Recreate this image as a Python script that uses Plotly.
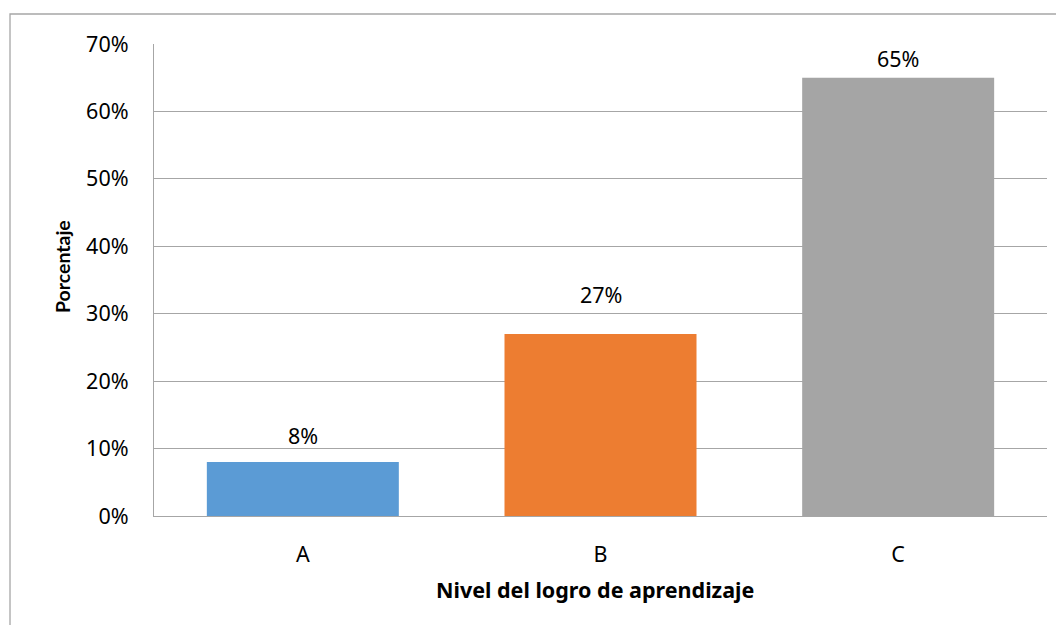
import plotly.graph_objects as go

categories = ["A", "B", "C"]
values = [0.08, 0.27, 0.65]
labels = ["8%", "27%", "65%"]
colors = ["#5B9BD5", "#ED7D31", "#A5A5A5"]
tick_vals = [0, 0.1, 0.2, 0.3, 0.4, 0.5, 0.6, 0.7]
tick_text = ["0%", "10%", "20%", "30%", "40%", "50%", "60%", "70%"]
x_title = "Nivel del logro de aprendizaje"
y_title = "Porcentaje"

FONT = "Noto Sans"
label_shift = [10, 23, 3]

fig = go.Figure()
fig.add_trace(go.Bar(
    x=categories, y=values, marker=dict(color=colors, line=dict(width=0)),
    width=0.645, hoverinfo="skip",
))

for c, v, t, s in zip(categories, values, labels, label_shift):
    fig.add_annotation(x=c, y=v, text=t, showarrow=False, yanchor="bottom",
                       yshift=s, font=dict(family=FONT, size=21.5, color="#000000"))

# axis titles
fig.add_annotation(xref="paper", yref="paper", x=-0.103, y=0.5275,
                   text="<b>" + y_title + "</b>", textangle=-90, showarrow=False,
                   xanchor="center", yanchor="middle",
                   font=dict(family="Lato", size=19.5, color="#000000"))
fig.add_annotation(xref="paper", yref="paper", x=0.494, y=-0.156,
                   text="<b>" + x_title + "</b>", showarrow=False,
                   xanchor="center", yanchor="middle",
                   font=dict(family=FONT, size=21.5, color="#000000"))

fig.add_shape(type="rect", xref="paper", yref="paper",
              x0=-0.16125, y0=-0.5, x1=1.2, y1=1.0636,
              line=dict(color="#A6A6A6", width=1.3), layer="below")

fig.update_layout(
    width=1048, height=617,
    margin=dict(l=146, r=9, t=36, b=109),
    paper_bgcolor="white", plot_bgcolor="white",
    showlegend=False,
    font=dict(family=FONT, size=21.5, color="#000000"),
    xaxis=dict(
        showline=True, linecolor="#A6A6A6", linewidth=1.3,
        showgrid=False, ticks="", tickfont=dict(size=21.5),
        ticklabelstandoff=19,
    ),
    yaxis=dict(
        range=[0, 0.7], tickvals=tick_vals, ticktext=tick_text,
        showline=True, linecolor="#A6A6A6", linewidth=1.3,
        showgrid=True, gridcolor="#A6A6A6", gridwidth=1.3,
        zeroline=False, ticks="", tickfont=dict(size=21.5),
        ticklabelstandoff=20,
    ),
)

fig.write_html("out.html")
